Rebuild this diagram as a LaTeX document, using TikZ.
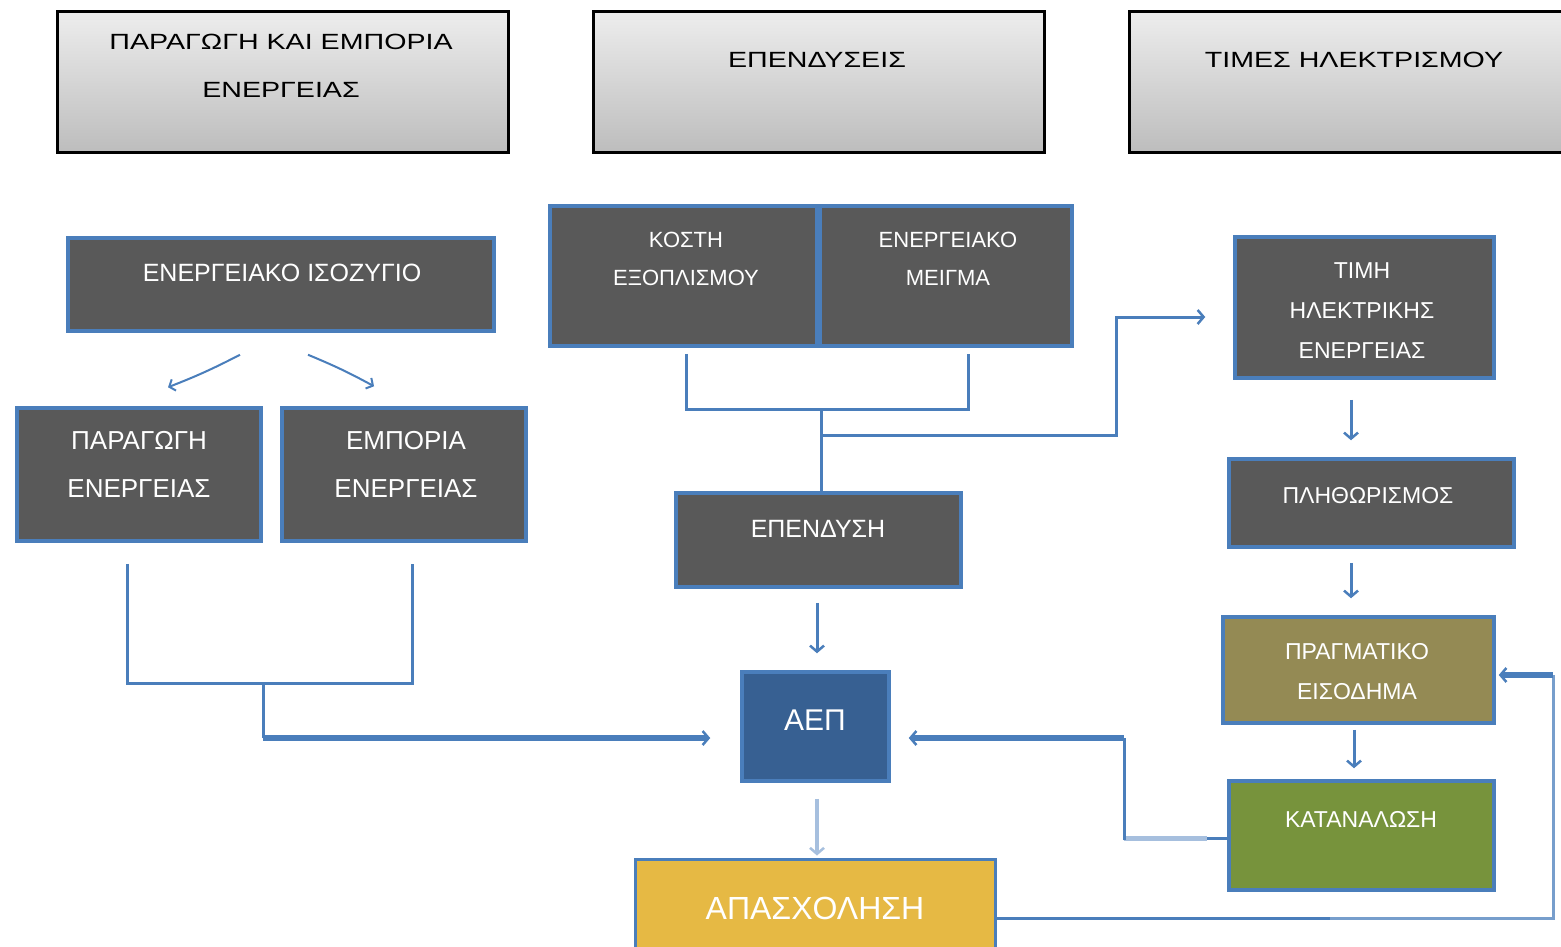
\documentclass[tikz,border=0pt]{standalone}
\usepackage{fontspec}
\setmainfont{Liberation Sans}
\newfontfamily\hdrfont[FakeStretch=1.3]{Liberation Sans}
\usetikzlibrary{arrows.meta,calc}
\definecolor{lnblue}{HTML}{4A7EBB}
\definecolor{lnlight}{HTML}{A6BFDE}
\definecolor{darkfill}{HTML}{595959}
\definecolor{olivefill}{HTML}{948A54}
\definecolor{greenfill}{HTML}{77933C}
\definecolor{aepfill}{HTML}{376092}
\definecolor{yellowfill}{HTML}{E6B944}
\definecolor{hdtop}{HTML}{EDEDED}
\definecolor{hdbot}{HTML}{BDBDBD}
\newcommand{\setfs}[2]{\fontsize{#1}{#2}\selectfont}
\begin{document}
\begin{tikzpicture}[x=1pt,y=-1pt,
  hdr/.style={draw=black, line width=3pt, top color=hdtop, bottom color=hdbot, inner sep=0pt},
  box/.style={draw=lnblue, line width=3.5pt, fill=darkfill, inner sep=0pt},
  htext/.style={text=black, align=center, inner sep=0pt, font=\hdrfont\setfs{22}{48}},
  btext/.style={text=white, align=center, inner sep=0pt},
  ln/.style={draw=lnblue, line width=3pt},
  thk/.style={draw=lnblue, line width=6pt},
  arr/.style={-{Straight Barb[length=6pt,width=14pt,line width=2.5pt]}},
  thin/.style={draw=lnblue, line width=2pt, -{Straight Barb[length=5pt,width=12pt,line width=2pt]}}
]
\useasboundingbox (0,0) rectangle (1561,946);
\fill[white] (0,0) rectangle (1561,946);

% headers
\node[hdr, minimum width=451, minimum height=141] (h1) at (282.5,81.5) {};
\node[hdr, minimum width=451, minimum height=141] (h2) at (818.5,81.5) {};
\node[hdr, minimum width=440, minimum height=141] (h3) at (1349,81.5) {};
\node[htext] (h1t) at (281,66) {ΠΑΡΑΓΩΓΗ ΚΑΙ ΕΜΠΟΡΙΑ\\ΕΝΕΡΓΕΙΑΣ};
\node[htext] (h2t) at (817,60) {ΕΠΕΝΔΥΣΕΙΣ};
\node[htext] (h3t) at (1354,60) {ΤΙΜΕΣ ΗΛΕΚΤΡΙΣΜΟΥ};

% boxes
\node[box, minimum width=426, minimum height=93] (iso) at (281,284.5) {};
\node[box, minimum width=244, minimum height=133] (par) at (139,474.5) {};
\node[box, minimum width=244, minimum height=133] (emp) at (404,474.5) {};
\node[box, minimum width=267, minimum height=140] (kos) at (683.5,276) {};
\node[box, minimum width=252, minimum height=140] (mei) at (946,276) {};
\node[box, minimum width=285, minimum height=94] (epe) at (818.5,540) {};
\node[box, minimum width=259, minimum height=141] (tim) at (1364.5,307.5) {};
\node[box, minimum width=285, minimum height=88] (pli) at (1371.5,503) {};
\node[box, fill=olivefill, minimum width=271, minimum height=106] (pra) at (1358.5,670) {};
\node[box, fill=greenfill, minimum width=265, minimum height=109] (kat) at (1361.5,835.5) {};
\node[box, fill=aepfill, minimum width=147, minimum height=109] (aep) at (815.5,726.5) {};
\node[box, fill=yellowfill, line width=3pt, minimum width=360, minimum height=121] (apa) at (815,919.5) {};

% texts
\node[btext, font=\setfs{25}{30}] (isot) at (282,273) {ΕΝΕΡΓΕΙΑΚΟ ΙΣΟΖΥΓΙΟ};
\node[btext, font=\setfs{26}{48}] (part) at (139,464) {ΠΑΡΑΓΩΓΗ\\ΕΝΕΡΓΕΙΑΣ};
\node[btext, font=\setfs{26}{48}] (empt) at (406,464) {ΕΜΠΟΡΙΑ\\ΕΝΕΡΓΕΙΑΣ};
\node[btext, font=\setfs{22}{38}] (kost) at (686,259) {ΚΟΣΤΗ\\ΕΞΟΠΛΙΣΜΟΥ};
\node[btext, font=\setfs{22}{38}] (meit) at (948,259) {ΕΝΕΡΓΕΙΑΚΟ\\ΜΕΙΓΜΑ};
\node[btext, font=\setfs{25}{30}] (epet) at (818,529) {ΕΠΕΝΔΥΣΗ};
\node[btext, font=\setfs{23}{40}] (timt) at (1362,311) {ΤΙΜΗ\\ΗΛΕΚΤΡΙΚΗΣ\\ΕΝΕΡΓΕΙΑΣ};
\node[btext, font=\setfs{23}{30}] (plit) at (1368,496) {ΠΛΗΘΩΡΙΣΜΟΣ};
\node[btext, font=\setfs{23}{40}] (prat) at (1357,672) {ΠΡΑΓΜΑΤΙΚΟ\\ΕΙΣΟΔΗΜΑ};
\node[btext, font=\setfs{23}{30}] (katt) at (1361,819) {ΚΑΤΑΝΑΛΩΣΗ};
\node[btext, font=\setfs{30}{36}] (aept) at (815,720) {ΑΕΠ};
\node[btext, font=\setfs{32}{38}] (apat) at (815,908) {ΑΠΑΣΧΟΛΗΣΗ};

% connectors: energy balance split
\draw[thin] ($(iso.south)+(-41,22)$) to[bend left=3] ($(par.north)+(29,-19)$);
\draw[thin] ($(iso.south)+(27,22)$) to[bend left=3] ($(emp.north)+(-30,-20)$);

% production/trade -> AEP
\coordinate (j1) at (263,682);
\draw[ln] ($(par.south)+(-12,21)$) |- ($(emp.south)+(8,141)$) -- ($(emp.south)+(8,21)$);
\draw[ln] (j1) -- (263,738);
\draw[thk,arr] (263,738) -- ($(aep.west)+(-30,11.5)$);

% equipment cost / energy mix -> investment
\coordinate (j2) at (821,409);
\coordinate (j3) at (821,435);
\draw[ln] ($(kos.south)+(2.5,6)$) |- (j2) -| ($(mei.south)+(22,6)$);
\draw[ln] (j2) -- (j2 |- epe.north);
\draw[ln,arr] (j3) -- (1116,435) |- ($(tim.west)+(-28,9.5)$);

% investment -> AEP -> employment
\draw[ln,arr] ($(epe.south)+(-1.5,14)$) -- ($(aep.north)+(1.5,-17)$);
\draw[draw=lnlight,line width=4pt,arr] ($(aep.south)+(1.5,16)$) -- ($(apa.north)+(2,-2)$);

% right column
\draw[ln,arr] ($(tim.south)+(-13.5,20)$) -- ($(pli.north)+(-20.5,-17)$);
\draw[ln,arr] ($(pli.south)+(-20.5,14)$) -- ($(pra.north)+(-7.5,-17)$);
\draw[ln,arr] ($(pra.south)+(-4.5,5)$) -- ($(kat.north)+(-7.5,-11)$);

% consumption -> AEP
\draw[ln] ($(kat.west)+(0,2.5)$) -- (1205,838);
\draw[draw=lnlight,line width=5pt] (1207,838) -- (1124,838);
\draw[ln] (1124,840) -- (1124,738);
\draw[thk,arr] (1124,738) -- ($(aep.east)+(18,11.5)$);

% employment -> real income
\draw[ln] ($(apa.east)+(0,-1.5)$) -- (1330,918);
\draw[draw=lnblue!75,line width=3pt] (1330,918) -- (1553,918) -- (1553,675);
\draw[thk,arr] (1553,675) -- ($(pra.east)+(3,5)$);
\end{tikzpicture}
\end{document}
